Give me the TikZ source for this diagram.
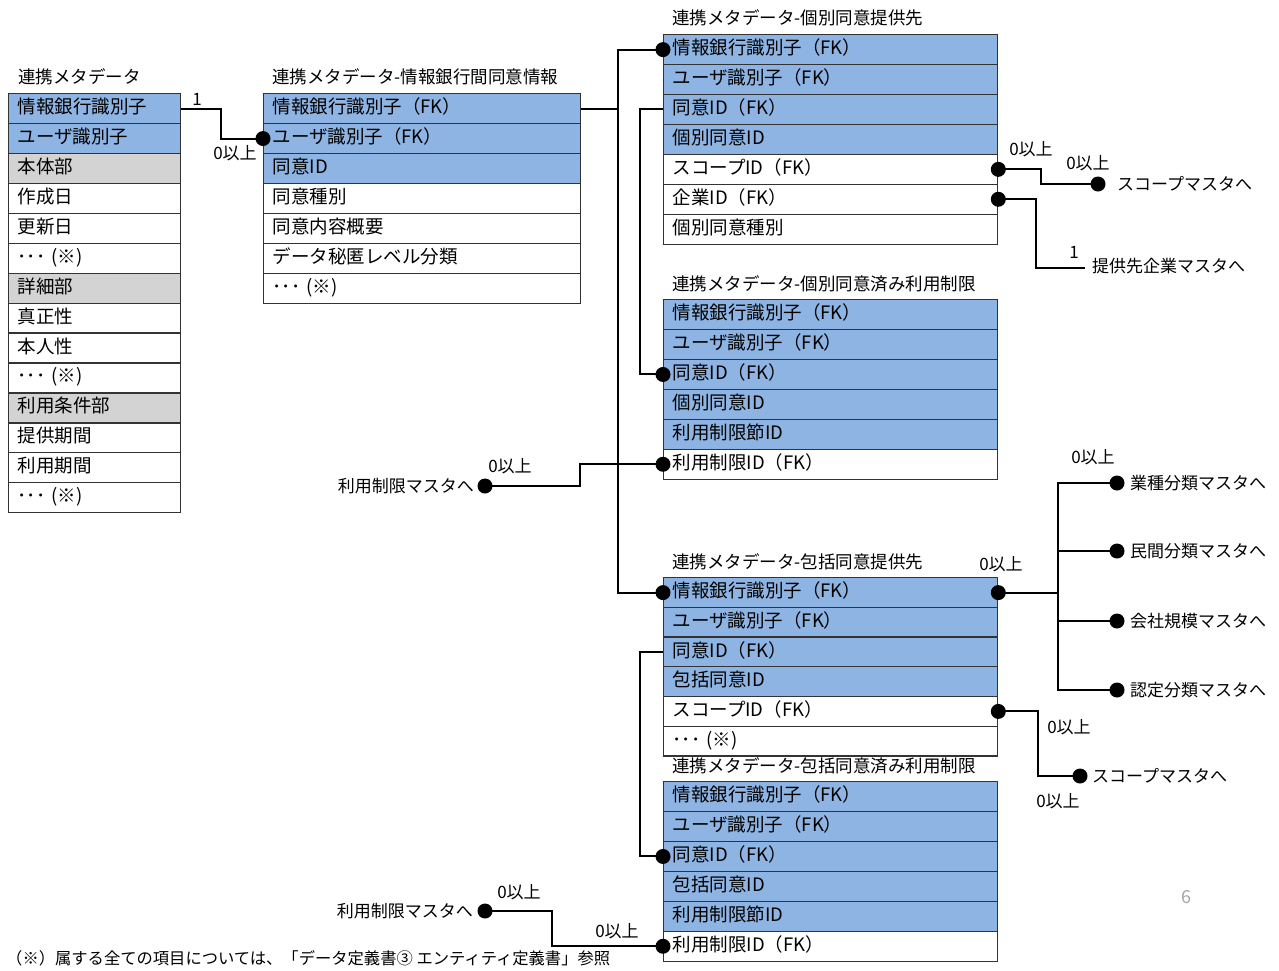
\documentclass[tikz,border=0pt]{standalone}
\usepackage{fontspec}
\setmainfont{Noto Sans CJK JP}
\usetikzlibrary{calc}
\definecolor{keyblue}{HTML}{8EB4E3}
\definecolor{secgray}{HTML}{D3D3D3}
\definecolor{plain}{HTML}{FFFFFF}
\definecolor{rule}{HTML}{333333}
\tikzset{
  rowbox/.style={draw=rule, line width=1.3pt, anchor=north west, inner xsep=9pt, inner ysep=0pt,
    minimum height=29.93pt, text height=14pt, text depth=4pt, align=left,
    font=\fontsize{18.5}{18.5}\selectfont},
  title/.style={anchor=west, inner sep=0pt, font=\fontsize{17.5}{17.5}\selectfont},
  lbl/.style={inner sep=0pt, font=\fontsize{17}{17}\selectfont},
  conn/.style={line width=2pt, line join=miter},
  dot/.style={fill=black},
}
\newcommand{\jdot}[1]{\fill[dot] (#1) circle (7.5pt);}
\newcommand{\etc}{･･･ (※)}
\begin{document}
\begin{tikzpicture}[x=1pt,y=-1pt]
\useasboundingbox (0,0) rectangle (1279,970);
\fill[white] (0,0) rectangle (1279,970);

% ---- 連携メタデータ ----
\node[title] (h1) at (18,77) {連携メタデータ};
\foreach \f/\t [count=\i] in {keyblue/情報銀行識別子, keyblue/ユーザ識別子, secgray/本体部,
  plain/作成日, plain/更新日, plain/\etc, secgray/詳細部, plain/真正性, plain/本人性,
  plain/\etc, secgray/利用条件部, plain/提供期間, plain/利用期間, plain/\etc}
  \node[rowbox, fill=\f, text width=154pt] (t1-\i) at (8, {93+(\i-1)*29.93}) {\t};

% ---- 連携メタデータ-情報銀行間同意情報 ----
\node[title] (h2) at (272,77) {連携メタデータ-情報銀行間同意情報};
\foreach \f/\t [count=\i] in {keyblue/情報銀行識別子（FK）, keyblue/ユーザ識別子（FK）, keyblue/同意ID,
  plain/同意種別, plain/同意内容概要, plain/データ秘匿レベル分類, plain/\etc}
  \node[rowbox, fill=\f, text width=299pt] (t2-\i) at (263, {93+(\i-1)*29.93}) {\t};

% ---- 連携メタデータ-個別同意提供先 ----
\node[title] (h3) at (672,18) {連携メタデータ-個別同意提供先};
\foreach \f/\t [count=\i] in {keyblue/情報銀行識別子（FK）, keyblue/ユーザ識別子（FK）, keyblue/同意ID（FK）,
  keyblue/個別同意ID, plain/スコープID（FK）, plain/企業ID（FK）, plain/個別同意種別}
  \node[rowbox, fill=\f, text width=316pt] (t3-\i) at (663, {34+(\i-1)*29.93}) {\t};

% ---- 連携メタデータ-個別同意済み利用制限 ----
\node[title] (h4) at (672,284) {連携メタデータ-個別同意済み利用制限};
\foreach \f/\t [count=\i] in {keyblue/情報銀行識別子（FK）, keyblue/ユーザ識別子（FK）, keyblue/同意ID（FK）,
  keyblue/個別同意ID, keyblue/利用制限節ID, plain/利用制限ID（FK）}
  \node[rowbox, fill=\f, text width=316pt] (t4-\i) at (663, {299+(\i-1)*29.93}) {\t};

% ---- 連携メタデータ-包括同意提供先 ----
\node[title] (h5) at (672,562) {連携メタデータ-包括同意提供先};
\foreach \f/\t [count=\i] in {keyblue/情報銀行識別子（FK）, keyblue/ユーザ識別子（FK）, keyblue/同意ID（FK）,
  keyblue/包括同意ID, plain/スコープID（FK）, plain/\etc}
  \node[rowbox, fill=\f, text width=316pt] (t5-\i) at (663, {577+(\i-1)*29.7}) {\t};

% ---- 連携メタデータ-包括同意済み利用制限 ----
\node[title] (h6) at (672,766) {連携メタデータ-包括同意済み利用制限};
\foreach \f/\t [count=\i] in {keyblue/情報銀行識別子（FK）, keyblue/ユーザ識別子（FK）, keyblue/同意ID（FK）,
  keyblue/包括同意ID, keyblue/利用制限節ID, plain/利用制限ID（FK）}
  \node[rowbox, fill=\f, text width=316pt] (t6-\i) at (663, {781+(\i-1)*29.93}) {\t};

% ---- connectors ----
% 連携メタデータ → 情報銀行間同意情報
\draw[conn] (t1-1.east) -- ++(40,0) |- (t2-2.west);
\jdot{t2-2.west}
\node[lbl] at (197,99) {1};
\node[lbl] at (235,153) {0以上};

% 情報銀行間同意情報 → 個別同意提供先 / 包括同意提供先
\draw[conn] (t3-1.west) -- ++(-45,0) coordinate (bus1) -- (bus1 |- t5-1.west) -- (t5-1.west);
\draw[conn] (t2-1.east) -- (t2-1.east -| bus1);
\jdot{t3-1.west}
\jdot{t5-1.west}

% 個別同意提供先 → 個別同意済み利用制限
\draw[conn] (t3-3.west) -- ++(-23,0) |- (t4-3.west);
\jdot{t4-3.west}

% 利用制限マスタ (個別)
\node[lbl, anchor=east] (m1) at (474,486) {利用制限マスタへ};
\coordinate (d1) at (485,486);
\draw[conn] (d1) -- ++(95,0) |- (t4-6.west);
\jdot{d1}
\jdot{t4-6.west}
\node[lbl] at (510,466) {0以上};

% スコープマスタ (個別)
\node[lbl, anchor=west] (m2) at (1117,184) {スコープマスタへ};
\coordinate (d2) at (1098,184);
\draw[conn] (t3-5.east) -- ++(43,0) |- (d2);
\jdot{t3-5.east}
\jdot{d2}
\node[lbl] at (1031,149) {0以上};
\node[lbl] at (1088,163) {0以上};

% 提供先企業マスタ
\node[lbl, anchor=west] (m3) at (1092,266) {提供先企業マスタへ};
\coordinate (e3) at (1085,268);
\draw[conn] (t3-6.east) -- ++(38,0) |- (e3);
\jdot{t3-6.east}
\node[lbl] at (1074,252) {1};

% 包括同意提供先 → 分類マスタ群
\draw[conn] (t5-1.east) -- ++(60,0) coordinate (bus2);
\coordinate (d4) at (1117,483);
\coordinate (d5) at (1117,551);
\coordinate (d6) at (1117,621);
\coordinate (d7) at (1117,690);
\draw[conn] (d4) -| (bus2) |- (d7);
\draw[conn] (bus2 |- d5) -- (d5);
\draw[conn] (bus2 |- d6) -- (d6);
\jdot{t5-1.east}
\foreach \d in {d4,d5,d6,d7} {\jdot{\d}}
\node[lbl, anchor=west] (m4) at (1130,483) {業種分類マスタへ};
\node[lbl, anchor=west] (m5) at (1130,551) {民間分類マスタへ};
\node[lbl, anchor=west] (m6) at (1130,621) {会社規模マスタへ};
\node[lbl, anchor=west] (m7) at (1130,690) {認定分類マスタへ};
\node[lbl] at (1001,564) {0以上};
\node[lbl] at (1093,457) {0以上};

% スコープマスタ (包括)
\node[lbl, anchor=west] (m8) at (1092,776) {スコープマスタへ};
\coordinate (d8) at (1080,776);
\draw[conn] (t5-5.east) -- ++(40,0) |- (d8);
\jdot{t5-5.east}
\jdot{d8}
\node[lbl] at (1069,727) {0以上};
\node[lbl] at (1058,801) {0以上};

% 包括同意提供先 → 包括同意済み利用制限
\draw[conn] (t5-3.west) -- ++(-23,0) |- (t6-3.west);
\jdot{t6-3.west}

% 利用制限マスタ (包括)
\node[lbl, anchor=east] (m9) at (473,911) {利用制限マスタへ};
\coordinate (d9) at (485,911);
\draw[conn] (d9) -- ++(67,0) |- (t6-6.west);
\jdot{d9}
\jdot{t6-6.west}
\node[lbl] at (519,892) {0以上};
\node[lbl] at (617,931) {0以上};

% 注記とページ番号
\node[anchor=west, inner sep=0pt, font=\fontsize{16.3}{16.3}\selectfont] (note) at (6,958)
  {（※）属する全ての項目については、「データ定義書③ エンティティ定義書」参照};
\node[inner sep=0pt, text=black!35, font=\fontsize{18}{18}\selectfont] (pg) at (1186,897) {6};
\end{tikzpicture}
\end{document}
